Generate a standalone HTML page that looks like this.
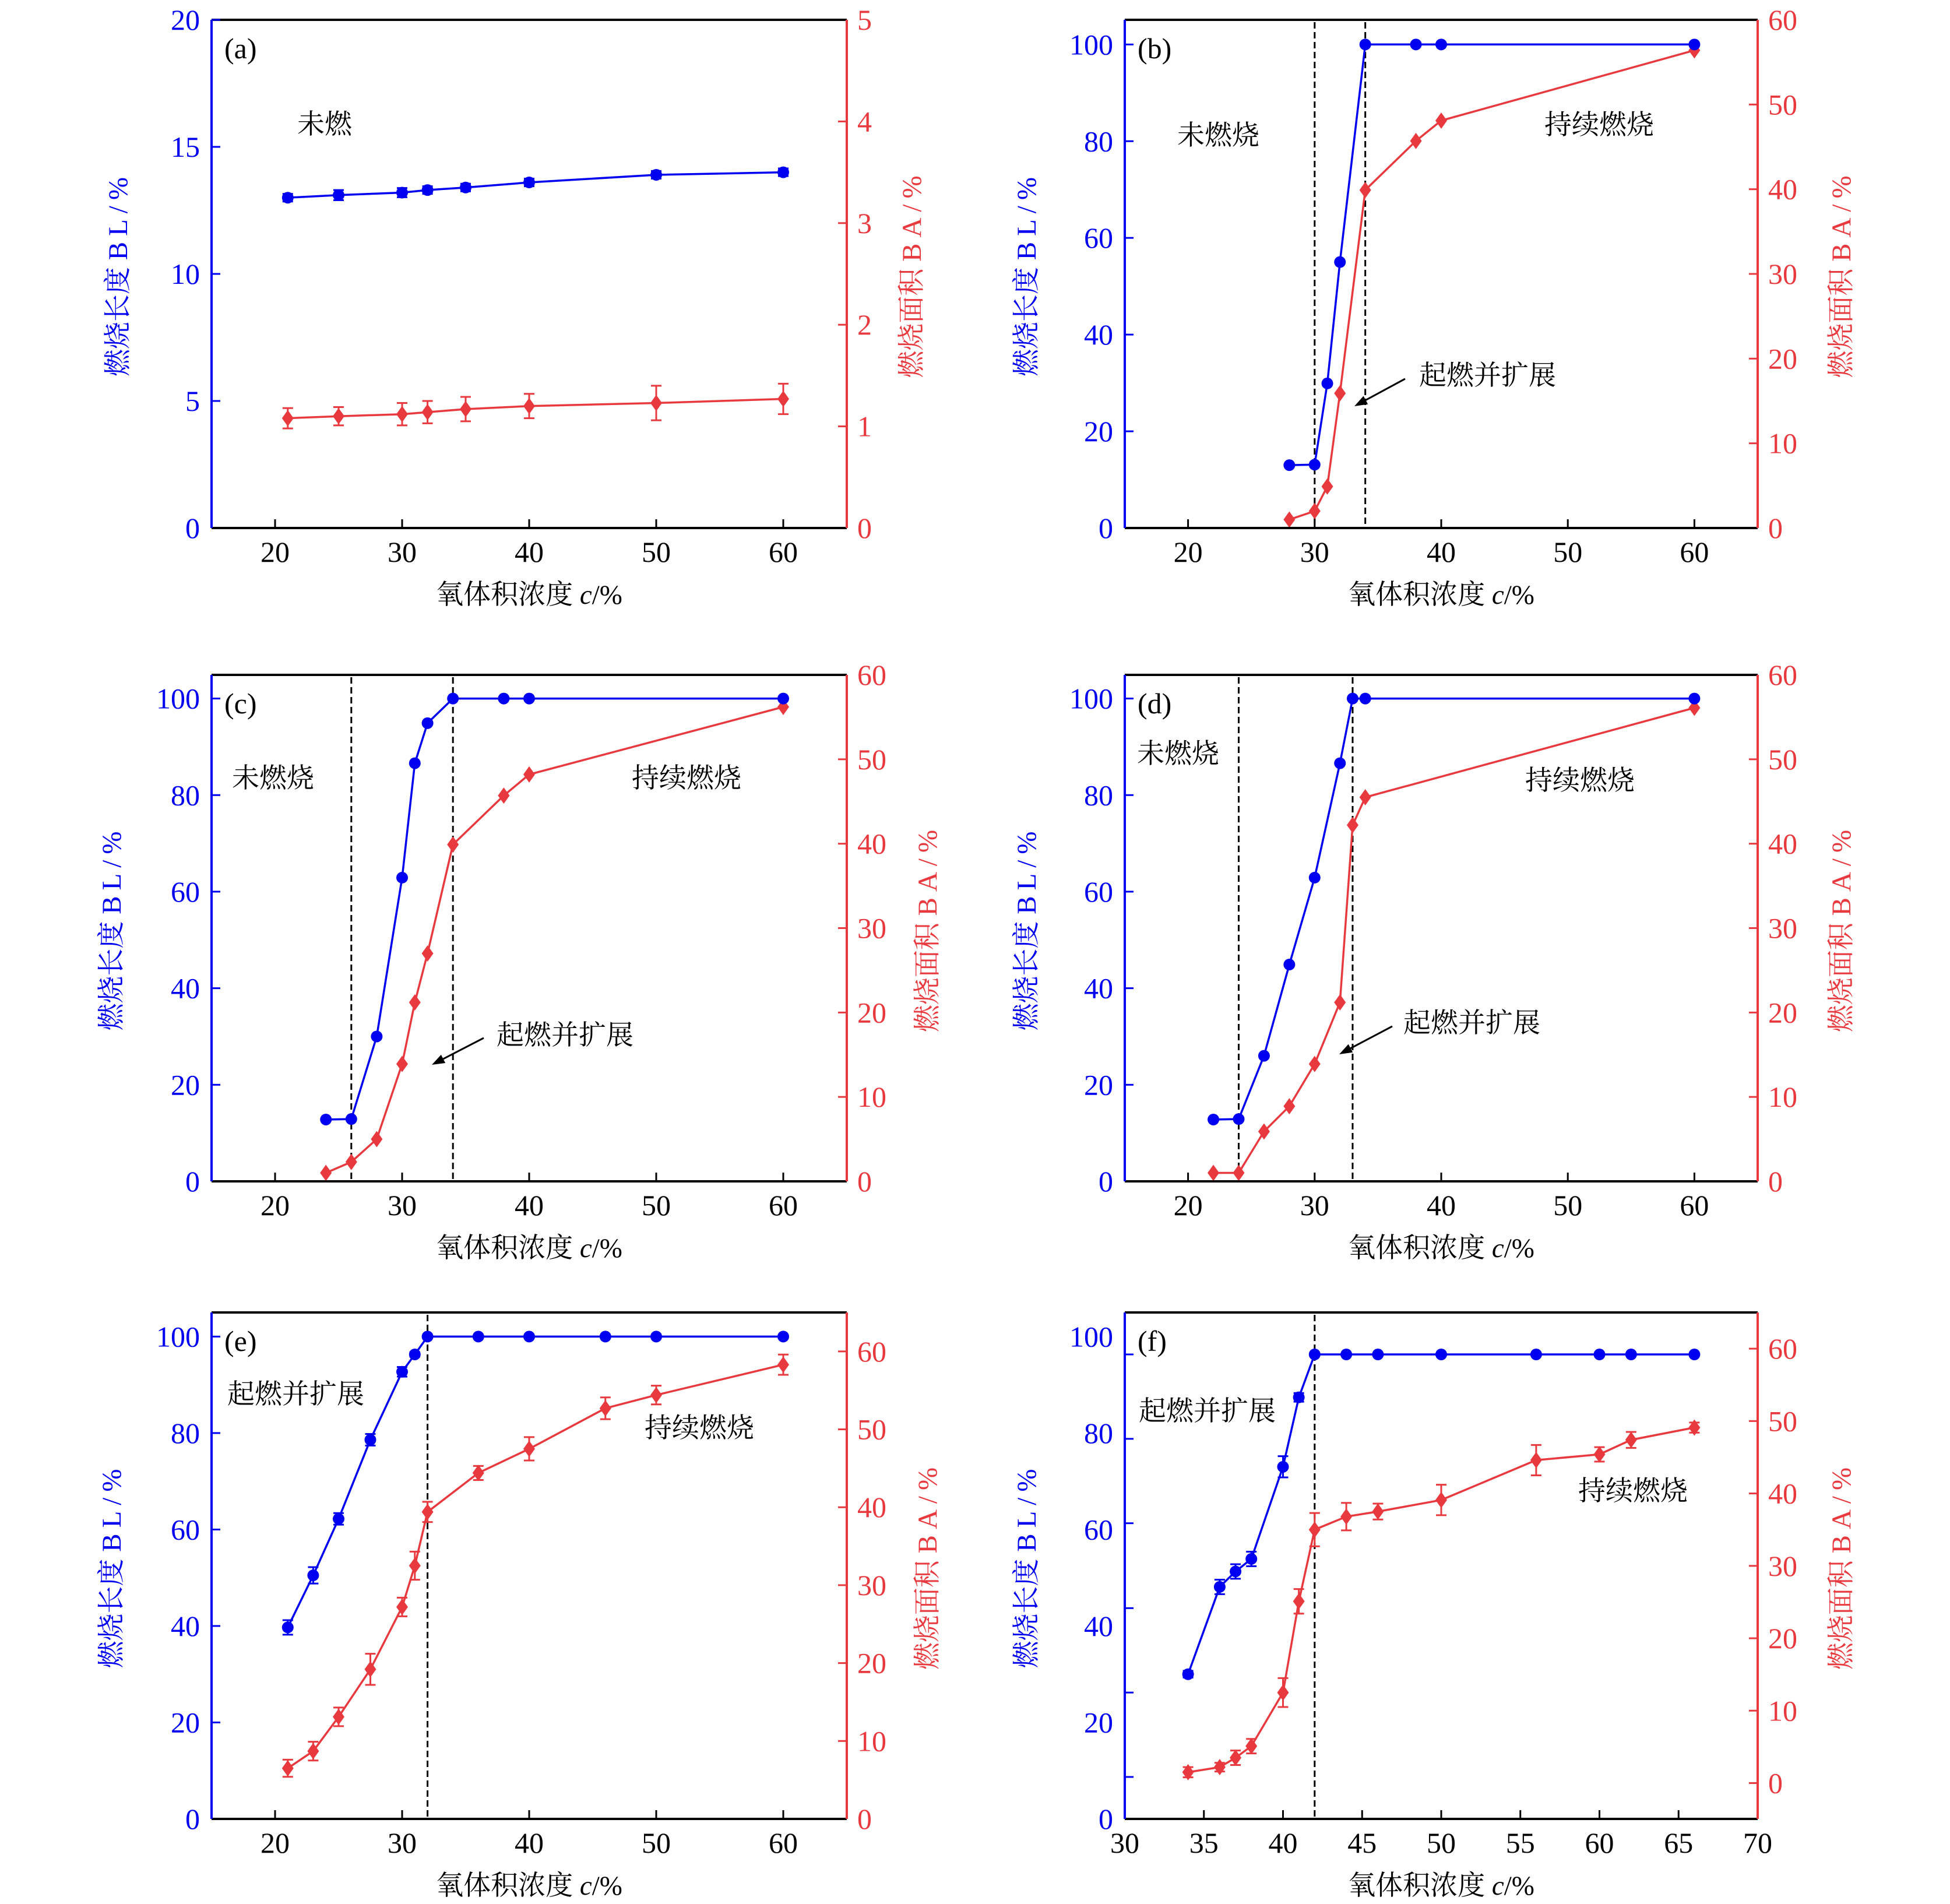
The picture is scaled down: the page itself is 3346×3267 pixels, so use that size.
<!DOCTYPE html>
<html><head><meta charset="utf-8"><style>
html,body{margin:0;padding:0;background:#fff;}
svg{display:block;}
text{font-family:"Liberation Serif","Noto Serif CJK SC","Noto Sans CJK SC",serif;}
</style></head><body>
<svg id="fig" width="3346" height="3267" viewBox="0 0 3346 3267" xmlns="http://www.w3.org/2000/svg"></svg>
<script>
// ---- Panel (a) data ----
const aX=[21,25,30,32,35,40,50,60];
const aBL=[13.0,13.1,13.2,13.3,13.4,13.6,13.9,14.0];
const aBLErr=[0.15,0.2,0.18,0.15,0.15,0.15,0.15,0.15];
const aBA=[1.08,1.1,1.12,1.14,1.17,1.2,1.23,1.27];
const aBAErr=[0.1,0.09,0.11,0.11,0.12,0.12,0.17,0.15];
// ---- Panel (b) data ----
const bX=[28,30,31,32,34,38,40,60];
const bBL=[13,13.1,29.9,55,100,100,100,100];
const bBA=[1,2,4.9,15.9,39.9,45.7,48.1,56.4];
// ---- Panel (c) data ----
const cX=[24,26,28,30,31,32,34,38,40,60];
const cBL=[12.8,12.9,30,62.9,86.6,94.9,100,100,100,100];
const cBA=[1,2.3,5,13.9,21.2,27,39.9,45.7,48.2,56.2];
// ---- Panel (d) data ----
const dX=[22,24,26,28,30,32,33,34,60];
const dBL=[12.8,12.9,26,44.9,62.9,86.6,100,100,100];
const dBA=[1,1,5.9,8.9,13.9,21.2,42.2,45.5,56.1];
// ---- Panel (e) data ----
const eX=[21,23,25,27.5,30,31,32,36,40,46,50,60];
const eBL=[39.7,50.5,62.2,78.6,92.7,96.3,100,100,100,100,100,100];
const eBLErr=[1.5,1.7,1.2,1.2,1.0,0.5,0.3,0.3,0.3,0.3,0.3,0.3];
const eBA=[6.5,8.7,13.1,19.2,27.2,32.5,39.4,44.4,47.5,52.7,54.4,58.3];
const eBAErr=[1.1,1.2,1.2,2.0,1.2,1.8,1.3,0.9,1.5,1.4,1.2,1.3];
// ---- Panel (f) data ----
const fX=[34,36,37,38,40,41,42,44,46,50,56,60,62,66];
const fBL=[30,48.1,51.3,53.9,73,87.4,96.3,96.3,96.3,96.3,96.3,96.3,96.3,96.3];
const fBLErr=[0.7,1.5,1.5,1.5,2.2,0.9,0.3,0.3,0.3,0.3,0.3,0.3,0.3,0.3];
const fBA=[1.5,2.2,3.5,5.1,12.5,25.1,35,36.8,37.5,39.1,44.6,45.4,47.4,49.1];
const fBAErr=[0.7,0.6,1,1,2,1.7,2.3,1.9,1.1,2.1,2.1,1.0,1.1,0.7];
// ---- tick labels ----
const xTicks1=[20,30,40,50,60];
const xTicksF=[30,35,40,45,50,55,60,65,70];
const yTicksA=[0,5,10,15,20];
const rTicksA=[0,1,2,3,4,5];
const yTicks100=[0,20,40,60,80,100];
const rTicks60=[0,10,20,30,40,50,60];
const yTickMarksF=[8.7,26.2,43.7,61.3,78.8,96.3];

const BLUE='#0000f0', RED='#e8393f';
const NS='http://www.w3.org/2000/svg';
const svg=document.getElementById('fig');
function mk(tag,attrs,parent,txt){const e=document.createElementNS(NS,tag);for(const k in attrs)e.setAttribute(k,attrs[k]);if(txt!==undefined)e.textContent=txt;(parent||svg).appendChild(e);return e;}

function panel(c){
  const g=mk('g',{});
  
  
  const sx=v=>c.L+(v-c.x0)/(c.x1-c.x0)*(c.R-c.L);
  const sy=v=>c.B-(v-c.y0)/(c.y1-c.y0)*(c.B-c.T);
  const sr=v=>c.B-(v-c.r0)/(c.r1-c.r0)*(c.B-c.T);
  // dashed lines
  (c.dash||[]).forEach(v=>{const l=mk('line',{x1:sx(v),x2:sx(v),y1:c.T+4,y2:c.B-4,stroke:'#000','stroke-width':3,'stroke-dasharray':'11,6'},g);
    
    });
  // red series
  const drawSeries=(xs,ys,errs,scale,col,shape,name)=>{
    const pts=xs.map((x,i)=>sx(x).toFixed(1)+','+scale(ys[i]).toFixed(1)).join(' ');
    const pl=mk('polyline',{points:pts,fill:'none',stroke:col,'stroke-width':3.5},g);
    
    
    xs.forEach((x,i)=>{
      const px=sx(x),py=scale(ys[i]);
      if(errs){const e=errs[i];const y1=scale(ys[i]+e),y2=scale(ys[i]-e);
        const eg=mk('path',{d:`M${px-9},${y1}H${px+9}M${px},${y1}V${y2}M${px-9},${y2}H${px+9}`,stroke:col,'stroke-width':3,fill:'none'},g);
        
        }
      let m;
      if(shape==='c') m=mk('circle',{cx:px,cy:py,r:10,fill:col},g);
      else m=mk('path',{d:`M${px},${py-14}L${px+10},${py}L${px},${py+14}L${px-10},${py}Z`,fill:col},g);
      
      
    });
  };
  drawSeries(c.x,c.ba,c.baErr,sr,RED,'d','ba');
  drawSeries(c.x,c.bl,c.blErr,sy,BLUE,'c','bl');
  // frame
  mk('line',{x1:c.L,x2:c.R,y1:c.T,y2:c.T,stroke:'#000','stroke-width':4},g);
  const xa=mk('line',{x1:c.L,x2:c.R,y1:c.B,y2:c.B,stroke:'#000','stroke-width':4},g);
  
  
  const ya=mk('line',{x1:c.L,x2:c.L,y1:c.T,y2:c.B,stroke:BLUE,'stroke-width':4},g);
  
  
  const ra=mk('line',{x1:c.R,x2:c.R,y1:c.T,y2:c.B,stroke:RED,'stroke-width':4},g);
  
  
  // x ticks
  c.xt.forEach(v=>{const x=sx(v);
    if(v>c.x0&&v<c.x1) mk('line',{x1:x,x2:x,y1:c.B,y2:c.B-15,stroke:'#000','stroke-width':3},g);
    const t=mk('text',{x:x,y:c.B+58,'text-anchor':'middle','font-size':50,fill:'#000'},g,v);
    
    });
  // left ticks
  (c.ytm||c.yt).forEach(v=>{const y=sy(v); if(v>c.y0) mk('line',{x1:c.L,x2:c.L+15,y1:y,y2:y,stroke:BLUE,'stroke-width':3},g);});
  c.yt.forEach(v=>{const t=mk('text',{x:c.L-20,y:sy(v)+17,'text-anchor':'end','font-size':50,fill:BLUE},g,v);
    
    });
  c.rt.forEach(v=>{const y=sr(v); if(v>c.r0&&v<c.r1) mk('line',{x1:c.R,x2:c.R-15,y1:y,y2:y,stroke:RED,'stroke-width':3},g);
    const t=mk('text',{x:c.R+18,y:y+17,'text-anchor':'start','font-size':50,fill:RED},g,v);
    
    });
  // titles
  const cx=(c.L+c.R)/2, cy=(c.T+c.B)/2;
  const xt=mk('text',{x:cx,y:c.B+130,'text-anchor':'middle','font-size':47,fill:'#000'},g);
  xt.innerHTML='氧体积浓度 <tspan font-style="italic">c</tspan>/%';
  
  
  const yl=mk('text',{x:c.ylx,y:cy,'text-anchor':'middle','font-size':47,fill:BLUE,transform:`rotate(-90 ${c.ylx} ${cy})`,'dominant-baseline':'central'},g);
  yl.innerHTML='燃烧长度 <tspan letter-spacing="10">BL/%</tspan>';
  
  
  const rl=mk('text',{x:c.rlx,y:cy,'text-anchor':'middle','font-size':47,fill:RED,transform:`rotate(-90 ${c.rlx} ${cy})`,'dominant-baseline':'central'},g);
  rl.innerHTML='燃烧面积 <tspan letter-spacing="10">BA/%</tspan>';
  
  
  const pl=mk('text',{x:c.L+22,y:c.T+66,'font-size':50,fill:'#000'},g,'('+c.id+')');
  
  
  (c.notes||[]).forEach(n=>{const t=mk('text',{x:n[1],y:n[2],'font-size':47,fill:'#000','dominant-baseline':'central'},g,n[0]);
    
    });
  if(c.arrow){const [x1,y1,x2,y2]=c.arrow;const ang=Math.atan2(y2-y1,x2-x1);const L=22,W=8;
    const bx=x2-L*Math.cos(ang),by=y2-L*Math.sin(ang);
    const ar=mk('g',{},g);
    
    
    mk('line',{x1,y1,x2:bx,y2:by,stroke:'#000','stroke-width':3},ar);
    mk('path',{d:`M${x2},${y2}L${bx-W*Math.sin(ang)},${by+W*Math.cos(ang)}L${bx+W*Math.sin(ang)},${by-W*Math.cos(ang)}Z`,fill:'#000'},ar);}
}
const LC={L:363,R:1453}, RC={L:1930,R:3016};
const R1={T:34,B:906}, R2={T:1158,B:2027}, R3={T:2252,B:3121};
panel(Object.assign({id:'a',x0:15,x1:65,y0:0,y1:20,r0:0,r1:5,x:aX,bl:aBL,blErr:aBLErr,ba:aBA,baErr:aBAErr,xt:xTicks1,yt:yTicksA,rt:rTicksA,ylx:203,rlx:1565,
  notes:[['未燃',510,214]]},LC,R1));
panel(Object.assign({id:'b',x0:15,x1:65,y0:0,y1:105.1,r0:0,r1:60,x:bX,bl:bBL,ba:bBA,xt:xTicks1,yt:yTicks100,rt:rTicks60,ylx:1762,rlx:3160,dash:[30,34],
  notes:[['未燃烧',2020,233],['持续燃烧',2650,215],['起燃并扩展',2435,645]],arrow:[2411,650,2324,697]},RC,R1));
panel(Object.assign({id:'c',x0:15,x1:65,y0:0,y1:104.9,r0:0,r1:60,x:cX,bl:cBL,ba:cBA,xt:xTicks1,yt:yTicks100,rt:rTicks60,ylx:192,rlx:1592,dash:[26,34],
  notes:[['未燃烧',398,1336],['持续燃烧',1084,1336],['起燃并扩展',852,1777]],arrow:[830,1781,741,1827]},LC,R2));
panel(Object.assign({id:'d',x0:15,x1:65,y0:0,y1:104.9,r0:0,r1:60,x:dX,bl:dBL,ba:dBA,xt:xTicks1,yt:yTicks100,rt:rTicks60,ylx:1762,rlx:3160,dash:[24,33],
  notes:[['未燃烧',1951,1294],['持续燃烧',2617,1340],['起燃并扩展',2408,1756]],arrow:[2389,1761,2298,1809]},RC,R2));
panel(Object.assign({id:'e',x0:15,x1:65,y0:0,y1:105,r0:0,r1:65,x:eX,bl:eBL,blErr:eBLErr,ba:eBA,baErr:eBAErr,xt:xTicks1,yt:yTicks100,rt:rTicks60,ylx:192,rlx:1592,dash:[32],
  notes:[['起燃并扩展',390,2393],['持续燃烧',1106,2451]]},LC,R3));
panel(Object.assign({id:'f',x0:30,x1:70,y0:0,y1:105,r0:-4.95,r1:65,x:fX,bl:fBL,blErr:fBLErr,ba:fBA,baErr:fBAErr,xt:xTicksF,yt:yTicks100,ytm:yTickMarksF,rt:rTicks60,ylx:1762,rlx:3160,dash:[42],
  notes:[['起燃并扩展',1954,2422],['持续燃烧',2708,2559]]},RC,R3));
</script>
</body></html>
